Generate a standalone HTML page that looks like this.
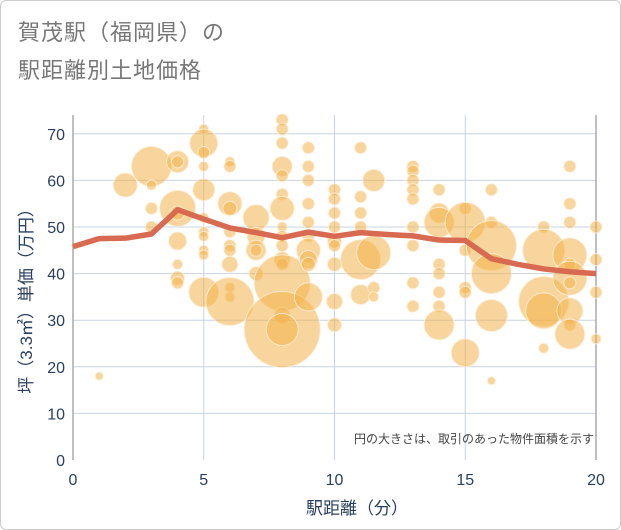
<!DOCTYPE html>
<html><head><meta charset="utf-8"><style>
body{margin:0;background:#fff;}
#wrap{position:relative;width:619px;height:528px;border:1px solid #ccc;border-radius:6px;overflow:hidden;font-family:"Liberation Sans","Noto Sans CJK JP",sans-serif;}
.title{position:absolute;left:17px;font-size:22px;color:#777;letter-spacing:1px;}
</style></head><body>
<div id="wrap">
<div class="title" style="top:14px">賀茂駅（福岡県）の</div>
<div class="title" style="top:52px">駅距離別土地価格</div>
<svg id="chart" width="621" height="530" style="position:absolute;left:-1px;top:-1px"></svg>
</div>
<script>
const xs=[1,2,3,3,3,3,4,4,4,4,4,4,4,4,5,5,5,5,5,5,5,5,5,5,5,6,6,6,6,6,6,6,6,6,6,6,7,7,7,7,7,8,8,8,8,8,8,8,8,8,8,8,8,8,8,8,8,9,9,9,9,9,9,9,9,9,9,10,10,10,10,10,10,10,10,10,11,11,11,11,11,11,11.5,11.5,11.5,11.5,13,13,13,13,13,13,13,13,13,14,14,14,14,14,14,14,14,15,15,15,15,15,15,16,16,16,16,16,16,18,18,18,18,18,19,19,19,19,19,19,19,19,19,19,20,20,20,20];
const ys=[18,59,63,59,54,50,64,64,54,53,47,42,39,38,71,68,66,63,58,52,49,48,45,44,36,64,63,55,54,49,46,45,42,37,35,34,52,48,45,40,45,73,71,68,63,61,57,54,50,48,46,43,42,38,31,28,28,67,63,60,55,51,48,45,43,42,35,58,56,53,50,47,46,42,34,29,67,56.5,53,50,43,35.5,60,44.5,37,35,63,62,60,58,56,50,46,38,33,58,53,51,42,40,36,33,29,54,51,45,37,36,23,58,51,46,40,31,17,50,45,34,32,24,63,55,51,44,42,39,38,32,29,27,50,43,36,26];
const sizes=[4,12,20,5,6,6,11,6,18,7,9,5,7,6,5,14,6,5,11,5,5,5,5,5,15,5,6,12,7,6,6,6,8,5,5,24,13,9,10,7,6,6,6,6,10,6,6,12,5,6,6,8,6,28,8,38,16,6,6,6,6,6,6,12,9,7,14,6,6,6,6,7,6,7,8,7,6,6,6,6,20,10,11,17,6,5,6,6,6,6,6,6,6,6,6,6,10,15,6,6,6,6,15,6,20,6,6,6,14,6,6,25,20,16,4,6,21,25,18,5,6,6,6,17,6,17,6,13,6,15,6,6,6,5];
const lineX=[0,1,2,3,4,5,6,7,8,9,10,11,12,13,14,15,16,17,18,19,20];
const lineY=[45.8,47.5,47.6,48.5,53.7,51.7,49.8,48.8,47.7,48.9,48.0,48.8,48.4,48.1,47.2,47.1,43.2,42.0,41.0,40.4,40.0];
const xTicks=[0,5,10,15,20];
const yTicks=[0,10,20,30,40,50,60,70];
const X0=73,X1=596,Y0=460,PX=(X1-X0)/20,PY=46.6/10;
const sx=v=>X0+v*PX, sy=v=>Y0-v*PY;
const svg=document.getElementById('chart');
const NS='http://www.w3.org/2000/svg';
function mk(t,a){const e=document.createElementNS(NS,t);for(const k in a)e.setAttribute(k,a[k]);svg.appendChild(e);return e;}
for(const t of yTicks){
 if(t>0){const g=mk('line',{x1:X0,x2:X1,y1:sy(t),y2:sy(t),stroke:'#c8d4e3','stroke-width':1});
 
 }
 const l=mk('text',{x:X0-8,y:sy(t)+6,'text-anchor':'end','font-size':16,fill:'#2a3f5f'});l.textContent=t;
 
 
}
for(const t of xTicks){
 if(t>0&&t<20){const g=mk('line',{x1:sx(t),x2:sx(t),y1:sy(0),y2:115,stroke:'#c8d4e3','stroke-width':1});
 
 }
 const l=mk('text',{x:sx(t),y:485,'text-anchor':'middle','font-size':16,fill:'#2a3f5f'});l.textContent=t;
 
 
}
const ax1=mk('line',{x1:X0,x2:X0,y1:115,y2:Y0,stroke:'#aaa','stroke-width':1.5});


const ax2=mk('line',{x1:X1,x2:X1,y1:115,y2:Y0,stroke:'#aaa','stroke-width':1.5});


for(let i=0;i<xs.length;i++){
 const c=mk('circle',{cx:sx(xs[i]),cy:sy(ys[i]),r:sizes[i],fill:'rgba(242,178,75,0.55)',stroke:'rgba(255,240,220,0.8)','stroke-width':1});
 
 
}
let d='';lineX.forEach((v,i)=>{d+=(i?'L':'M')+sx(v)+','+sy(lineY[i]);});
const p=mk('path',{d:d,fill:'none',stroke:'#d86a52','stroke-width':5.5,'stroke-linejoin':'round'});


const n=mk('text',{x:594,y:443,'text-anchor':'end','font-size':12,fill:'#444'});n.textContent='円の大きさは、取引のあった物件面積を示す';


const xt=mk('text',{x:357,y:514,'text-anchor':'middle','font-size':17,fill:'#2a3f5f'});xt.textContent='駅距離（分）';


const yt=mk('text',{x:0,y:0,'text-anchor':'middle','font-size':17,fill:'#2a3f5f',transform:'translate(32,'+sy(35)+') rotate(-90)'});yt.textContent='坪（3.3㎡）単価（万円）';


</script>
</body></html>
